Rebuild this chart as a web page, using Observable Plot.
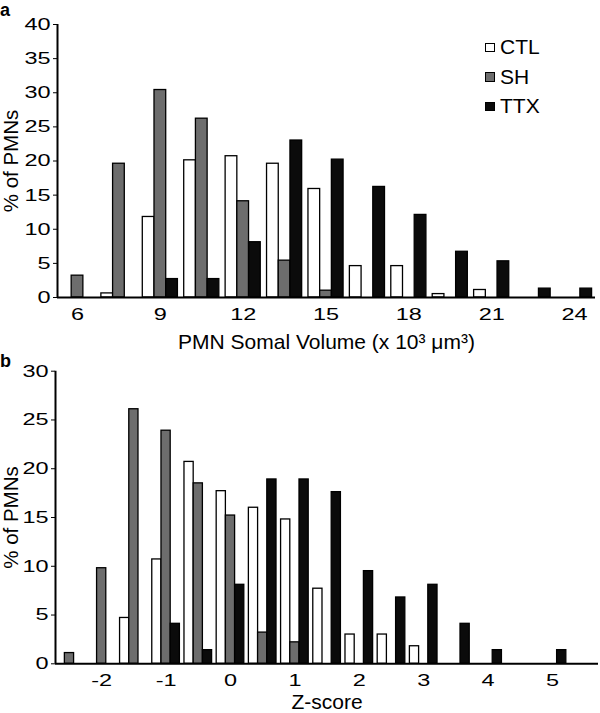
<!DOCTYPE html>
<html>
<head>
<meta charset="utf-8">
<script src="https://cdn.jsdelivr.net/npm/d3@7"></script>
<script src="https://cdn.jsdelivr.net/npm/@observablehq/plot@0.6"></script>
<style>
  body { margin: 0; background: #fff; }
  #fig { position: relative; width: 600px; height: 713px; font-family: "Liberation Sans", Arial, sans-serif; color: #000; }
  #fig svg { position: absolute; left: 0; overflow: visible; }
  #fig svg text { font-family: "Liberation Sans", Arial, sans-serif; fill: #000; }
  #fig g[aria-label$="tick label"] text { font-size: 17px; }
  #fig g[aria-label="x-axis label"] text { font-size: 21px; }
  #fig g[aria-label="y-axis label"] text { font-size: 20.5px; }
  .panel-label { position: absolute; left: 0; font-weight: bold; font-size: 18px; line-height: 18px; }
  .legend-row { position: absolute; left: 485px; height: 22px; font-size: 21px; line-height: 21px; }
  .legend-row .sw { position: absolute; left: 0; top: 6.5px; width: 7.5px; height: 7.5px; border: 1px solid #000; }
  .legend-row .lb { position: absolute; left: 15px; top: 0; white-space: nowrap; }
</style>
</head>
<body>
<div id="fig"></div>
<script>
// ---------- data ----------
const series = ["CTL", "SH", "TTX"];
const seriesColors = ["#ffffff", "#6d6d6d", "#0b0b0b"];

// panel a: PMN somal volume (x 10^3 µm^3)
const volumeBins = [6, 7.5, 9, 10.5, 12, 13.5, 15, 16.5, 18, 19.5, 21, 22.5, 24];
const volumeCTL  = [0, 0.6, 11.8, 20.1, 20.7, 19.6, 15.9, 4.6, 4.6, 0.5, 1.1, 0, 0];
const volumeSH   = [3.2, 19.6, 30.4, 26.2, 14.1, 5.4, 1.0, 0, 0, 0, 0, 0, 0];
const volumeTTX  = [0, 0, 2.7, 2.7, 8.1, 23.0, 20.2, 16.2, 12.1, 6.7, 5.3, 1.3, 1.3];
const volumeTicks = [6, 9, 12, 15, 18, 21, 24];
const volumeYTicks = [0, 5, 10, 15, 20, 25, 30, 35, 40];

// panel b: Z-score
const zBins = [-2.5, -2, -1.5, -1, -0.5, 0, 0.5, 1, 1.5, 2, 2.5, 3, 3.5, 4, 4.5, 5];
const zCTL  = [0, 0, 4.7, 10.7, 20.7, 17.7, 16.0, 14.8, 7.7, 3.0, 3.0, 1.8, 0, 0, 0, 0];
const zSH   = [1.1, 9.8, 26.1, 23.9, 18.5, 15.2, 3.2, 2.2, 0, 0, 0, 0, 0, 0, 0, 0];
const zTTX  = [0, 0, 0, 4.1, 1.4, 8.1, 18.9, 18.9, 17.6, 9.5, 6.8, 8.1, 4.1, 1.4, 0, 1.4];
const zTicks = [-2, -1, 0, 1, 2, 3, 4, 5];
const zYTicks = [0, 5, 10, 15, 20, 25, 30];

// ---------- helpers ----------
function toRows(bins, lists) {
  const rows = [];
  bins.forEach((b, i) => {
    lists.forEach((vals, k) => {
      if (vals[i] > 0) rows.push({bin: b, k, series: series[k], value: vals[i]});
    });
  });
  return rows;
}

function stretchTicks(svg, sx) {
  svg.querySelectorAll('g[aria-label$="tick label"] text').forEach(t => {
    const x = parseFloat(t.getAttribute("x")) || 0;
    const tr = t.getAttribute("transform") || "";
    t.setAttribute("transform", `${tr} translate(${x},0) scale(${sx},1) translate(${-x},0)`);
  });
}

function panel({rows, barW, xDomain, xTicks, yDomain, yTicks, xLabel, height, mt, mb, ml, mr, xLabelOffset, yLabelOffset}) {
  return Plot.plot({
    width: 600,
    height,
    marginTop: mt, marginBottom: mb, marginLeft: ml, marginRight: mr,
    x: {domain: xDomain},
    y: {domain: yDomain},
    color: {domain: series, range: seriesColors},
    marks: [
      Plot.rect(rows, {
        x1: d => d.bin + (d.k - 1.5) * barW,
        x2: d => d.bin + (d.k - 0.5) * barW,
        y1: 0,
        y2: "value",
        fill: "series",
        stroke: "#000",
        strokeWidth: 1.3
      }),
      Plot.ruleY([0], {stroke: "#000", strokeWidth: 2}),
      Plot.ruleX([xDomain[0]], {stroke: "#000", strokeWidth: 2}),
      Plot.axisX({ticks: xTicks, tickSize: 0, tickPadding: 10, tickFormat: d => String(d),
        label: xLabel, labelAnchor: "center", labelOffset: xLabelOffset, labelArrow: "none"}),
      Plot.axisY({ticks: yTicks, tickSize: 4, tickPadding: 3, tickFormat: d => String(d),
        label: "% of PMNs", labelAnchor: "center", labelOffset: yLabelOffset, labelArrow: "none"})
    ]
  });
}

// ---------- build ----------
const fig = document.getElementById("fig");

const svgA = panel({
  rows: toRows(volumeBins, [volumeCTL, volumeSH, volumeTTX]),
  barW: 0.424,
  xDomain: [5.275, 24.76],
  xTicks: volumeTicks,
  yDomain: [0, 40],
  yTicks: volumeYTicks,
  xLabel: "PMN Somal Volume (x 10³ μm³)",
  height: 352, mt: 24, mb: 55, ml: 57, mr: 5,
  xLabelOffset: 51, yLabelOffset: 54
});
svgA.style.top = "0px";
fig.appendChild(svgA);
stretchTicks(svgA, 1.38);

const svgB = panel({
  rows: toRows(zBins, [zCTL, zSH, zTTX]),
  barW: 0.143,
  xDomain: [-2.717, 5.714],
  xTicks: zTicks,
  yDomain: [0, 30],
  yTicks: zYTicks,
  xLabel: "Z-score",
  height: 373, mt: 30.7, mb: 49.7, ml: 55, mr: 2,
  xLabelOffset: 45.5, yLabelOffset: 52
});
svgB.style.top = "340px";
fig.appendChild(svgB);
stretchTicks(svgB, 1.38);

// panel letters
[["a", 1], ["b", 352]].forEach(([t, top]) => {
  const d = document.createElement("div");
  d.className = "panel-label";
  d.style.top = top + "px";
  d.textContent = t;
  fig.appendChild(d);
});

// legend (panel a)
series.forEach((s, i) => {
  const row = document.createElement("div");
  row.className = "legend-row";
  row.style.top = (36.2 + 29.5 * i) + "px";
  const sw = document.createElement("span");
  sw.className = "sw";
  sw.style.background = seriesColors[i];
  const lb = document.createElement("span");
  lb.className = "lb";
  lb.textContent = s;
  row.appendChild(sw);
  row.appendChild(lb);
  fig.appendChild(row);
});
</script>
</body>
</html>
